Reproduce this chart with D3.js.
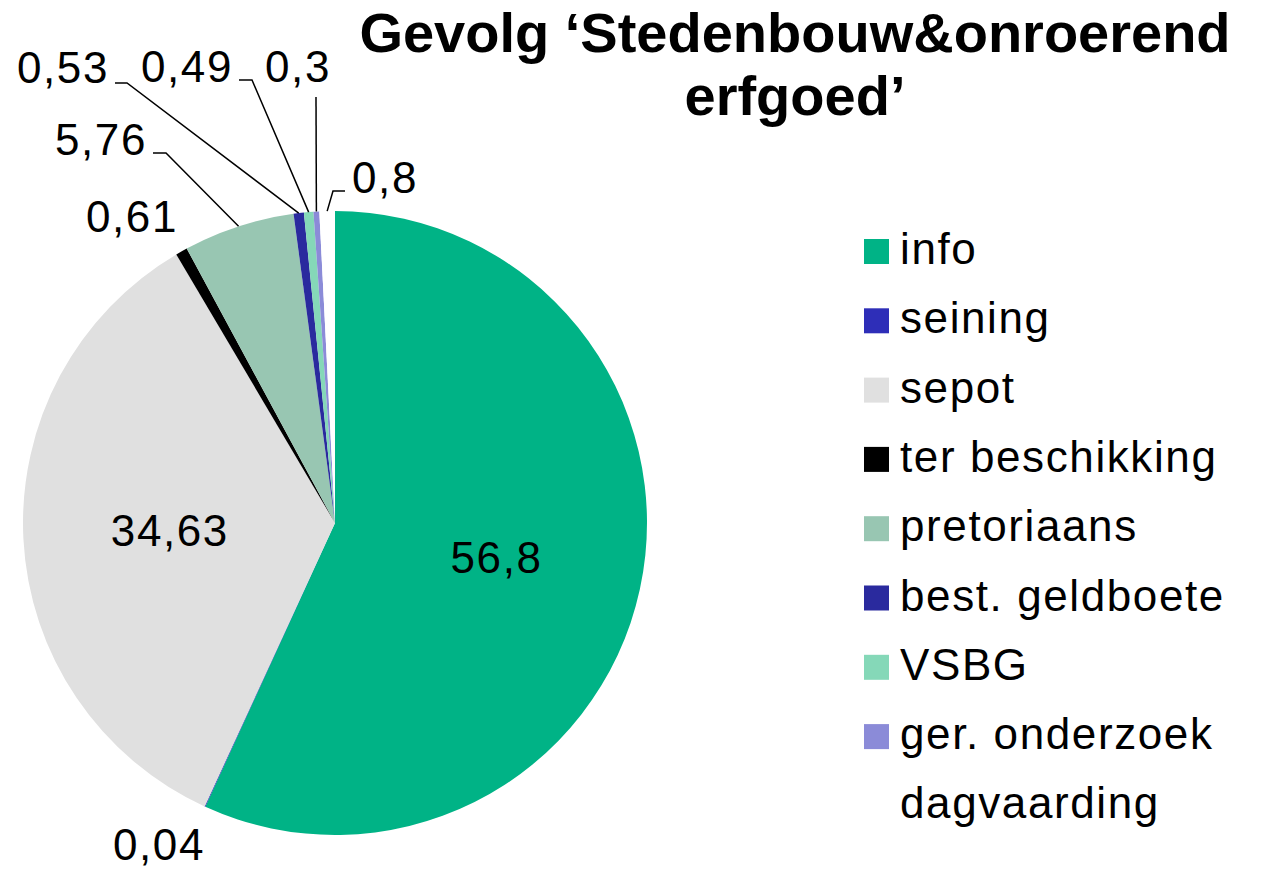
<!DOCTYPE html>
<html>
<head>
<meta charset="utf-8">
<script src="https://cdn.jsdelivr.net/npm/d3@7"></script>
<style>
  body { margin: 0; background: #fff; }
  svg text { font-family: "Liberation Sans", Arial, sans-serif; }
</style>
</head>
<body>
<div id="chart"></div>
<script>
// Data.
const categories = ["info", "seining", "sepot", "ter beschikking", "pretoriaans",
  "best. geldboete", "VSBG", "ger. onderzoek", "dagvaarding"];
const values = [56.8, 0.04, 34.63, 0.61, 5.76, 0.53, 0.49, 0.3, 0.8];
const valueLabels = ["56,8", "0,04", "34,63", "0,61", "5,76", "0,53", "0,49", "0,3", "0,8"];
const colors = ["#00b386", "#2e2eb8", "#e0e0e0", "#000000", "#98c6b2",
  "#2a2a9e", "#85d8b8", "#8b8bd8", "#ffffff"];
const titleLines = ["Gevolg \u2018Stedenbouw&onroerend", "erfgoed\u2019"];

// Where Excel put the outside labels (text anchor + optional elbow of the leader).
const labelLayout = [
  null,
  { x: 205, y: 860, anchor: "end" },
  null,
  { x: 178, y: 232, anchor: "end" },
  { x: 147, y: 155, anchor: "end", elbow: [[153, 153], [166, 153]] },
  { x: 109, y: 83, anchor: "end", elbow: [[115, 83], [127, 83]] },
  { x: 233, y: 82, anchor: "end", elbow: [[239, 80], [252, 80]] },
  { x: 331, y: 82, anchor: "end", elbow: [[316, 97]] },
  { x: 352, y: 193, anchor: "start", elbow: [[345, 191], [333, 191]] }
];

const width = 1263, height = 872;
const cx = 335, cy = 523, radius = 312;

const svg = d3.select("#chart").append("svg")
  .attr("width", width)
  .attr("height", height);

const pie = d3.pie().sort(null).value(d => d);
const arcs = pie(values);
const arc = d3.arc().innerRadius(0).outerRadius(radius);
const labelArc = d3.arc().innerRadius(radius * 0.53).outerRadius(radius * 0.53);
const edgeArc = d3.arc().innerRadius(radius).outerRadius(radius);

const g = svg.append("g").attr("transform", `translate(${cx},${cy})`);

// Slices.
g.selectAll("path.slice")
  .data(arcs)
  .join("path")
  .attr("class", "slice")
  .attr("d", arc)
  .attr("fill", (d, i) => colors[i]);

// Inside labels for the big slices.
g.selectAll("text.inside")
  .data(arcs.filter((d, i) => labelLayout[i] === null))
  .join("text")
  .attr("class", "inside")
  .attr("x", d => labelArc.centroid(d)[0])
  .attr("y", d => labelArc.centroid(d)[1] + 15)
  .attr("text-anchor", "middle")
  .attr("font-size", 44)
  .attr("letter-spacing", 1.6)
  .attr("fill", "#000")
  .text(d => valueLabels[d.index]);

// Outside labels with leader lines.
const outside = arcs.filter((d, i) => labelLayout[i] !== null);
const line = d3.line();

svg.selectAll("path.leader")
  .data(outside.filter(d => labelLayout[d.index].elbow))
  .join("path")
  .attr("class", "leader")
  .attr("fill", "none")
  .attr("stroke", "#000")
  .attr("stroke-width", 1.5)
  .attr("d", d => {
    const p = edgeArc.centroid(d);
    return line([...labelLayout[d.index].elbow, [p[0] + cx, p[1] + cy]]);
  });

svg.selectAll("text.outside")
  .data(outside)
  .join("text")
  .attr("class", "outside")
  .attr("x", d => labelLayout[d.index].x)
  .attr("y", d => labelLayout[d.index].y)
  .attr("text-anchor", d => labelLayout[d.index].anchor)
  .attr("font-size", 44)
  .attr("letter-spacing", 1.6)
  .attr("fill", "#000")
  .text(d => valueLabels[d.index]);

// Title.
svg.append("g").selectAll("text")
  .data(titleLines)
  .join("text")
  .attr("x", 795)
  .attr("y", (d, i) => 52 + i * 63)
  .attr("text-anchor", "middle")
  .attr("font-size", 56)
  .attr("font-weight", "bold")
  .attr("fill", "#000")
  .text(d => d);

// Legend.
const rowY = d3.scalePoint().domain(categories).range([251, 251 + 69.3 * 8]);
const legend = svg.append("g").selectAll("g")
  .data(categories)
  .join("g")
  .attr("transform", d => `translate(864,${rowY(d)})`);

legend.append("rect")
  .attr("x", 0)
  .attr("y", -12)
  .attr("width", 25)
  .attr("height", 25)
  .attr("fill", (d, i) => colors[i]);

legend.append("text")
  .attr("x", 36)
  .attr("y", 13)
  .attr("font-size", 44)
  .attr("letter-spacing", 1.6)
  .attr("fill", "#000")
  .text(d => d);
</script>
</body>
</html>
